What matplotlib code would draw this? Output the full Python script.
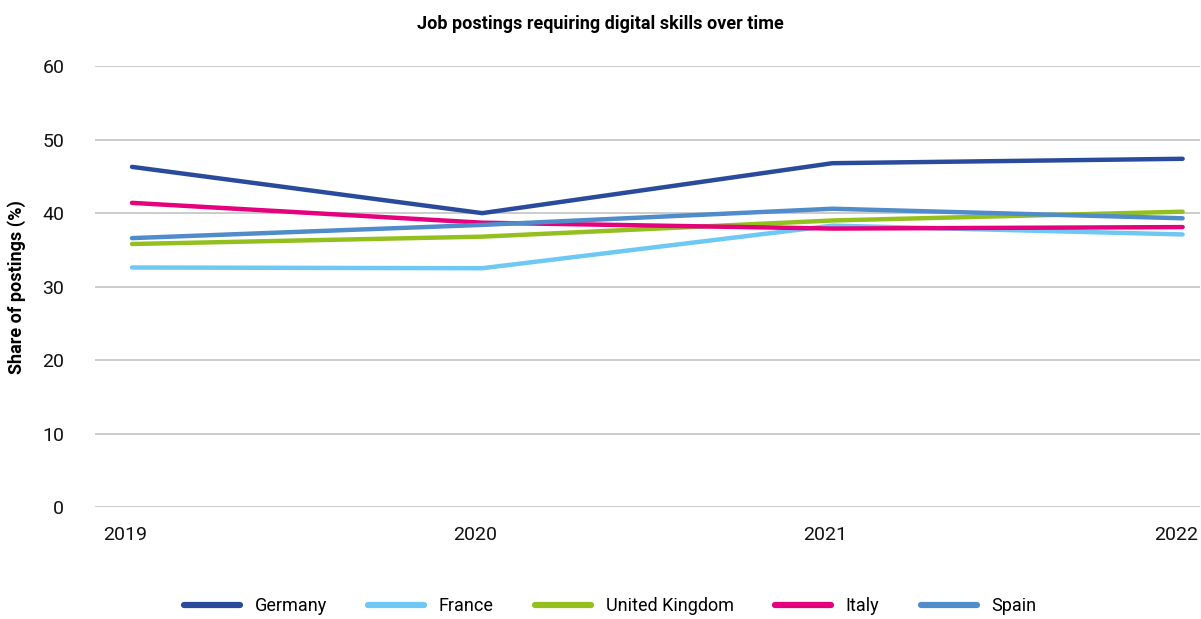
import matplotlib.pyplot as plt
import matplotlib.transforms as mtransforms
import numpy as np

plt.rcParams['font.family'] = ['Roboto', 'DejaVu Sans']

# Share of job postings requiring digital skills (%)
years = ['2019', '2020', '2021', '2022']
germany = [46.3, 40.0, 46.8, 47.4]
france = [32.6, 32.5, 38.3, 37.1]
uk = [35.8, 36.8, 39.0, 40.2]
italy = [41.4, 38.7, 37.9, 38.1]
spain = [36.6, 38.4, 40.6, 39.3]

series = [
    ('Germany', germany, '#2A4B9B'),
    ('France', france, '#6DC8F3'),
    ('United Kingdom', uk, '#93C01F'),
    ('Italy', italy, '#E5007E'),
    ('Spain', spain, '#4F8CC9'),
]

fig = plt.figure(figsize=(12.01, 6.19), dpi=100)
ax = fig.add_axes([0.079, 0.181, 0.92, 0.712])

x = np.arange(len(years))
for name, vals, color in series:
    ax.plot(x, vals, color=color, lw=3.2, label=name, solid_capstyle='round')

ax.set_ylim(0, 60)
ax.set_yticks(range(0, 61, 10))
ax.set_xlim(-0.106, 3.049)
ax.set_xticks(x)
ax.set_xticklabels(years)
ax.grid(axis='y', color='#c4c4c4', lw=1.2)
ax.set_axisbelow(True)
for s in ax.spines.values():
    s.set_visible(False)
ax.tick_params(length=0, labelsize=14, colors='#111111')
ax.tick_params(axis='y', pad=22)
ax.tick_params(axis='x', pad=14)

# nudge year labels left so the last one stays inside the figure
shift = mtransforms.ScaledTranslation(-7 / 100, 0, fig.dpi_scale_trans)
for lbl in ax.get_xticklabels():
    lbl.set_transform(lbl.get_transform() + shift)

ax.set_ylabel('Share of postings (%)', fontsize=13, fontweight='bold')
ax.yaxis.set_label_coords(-0.062, 0.5)
fig.suptitle('Job postings requiring digital skills over time', fontsize=13,
             fontweight='bold', y=0.975)

leg = fig.legend(loc='lower center', bbox_to_anchor=(0.508, -0.02), ncol=5,
                 frameon=False, fontsize=13, handlelength=3.1, handletextpad=0.8,
                 columnspacing=2.3)
for h in leg.legend_handles:
    h.set_linewidth(4.5)

fig.savefig('out.png', dpi=100)
